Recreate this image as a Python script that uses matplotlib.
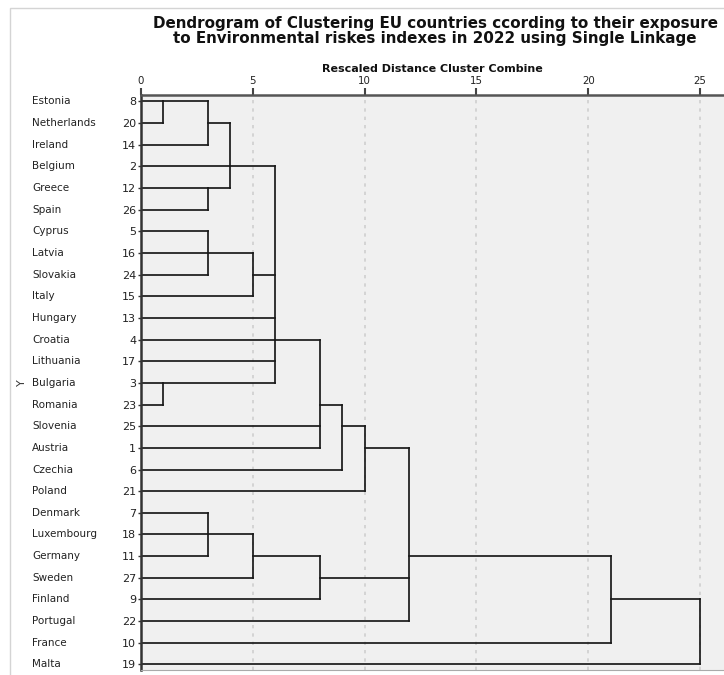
import matplotlib
matplotlib.use("Agg")
import matplotlib.pyplot as plt
from matplotlib.patches import Rectangle

plt.rcParams['font.family'] = ['DejaVu Sans']

# leaf order as listed, with SPSS case numbers
countries = ['Estonia', 'Netherlands', 'Ireland', 'Belgium', 'Greece', 'Spain',
             'Cyprus', 'Latvia', 'Slovakia', 'Italy', 'Hungary', 'Croatia',
             'Lithuania', 'Bulgaria', 'Romania', 'Slovenia', 'Austria', 'Czechia',
             'Poland', 'Denmark', 'Luxembourg', 'Germany', 'Sweden', 'Finland',
             'Portugal', 'France', 'Malta']
case_ids = [8, 20, 14, 2, 12, 26, 5, 16, 24, 15, 13, 4, 17, 3, 23, 25, 1, 6,
            21, 7, 18, 11, 27, 9, 22, 10, 19]

# merges: rescaled distance, members (leaf names or earlier merge index),
# leaf whose row carries the joined cluster onward
merge_height = [1, 3, 3, 4, 3, 5, 1, 6, 8, 9, 10, 3, 5, 8, 12, 21, 25]
merge_members = [
    ['Estonia', 'Netherlands'],
    [0, 'Ireland'],
    ['Greece', 'Spain'],
    [1, 'Belgium', 2],
    ['Cyprus', 'Latvia', 'Slovakia'],
    [4, 'Italy'],
    ['Bulgaria', 'Romania'],
    [3, 5, 'Hungary', 'Croatia', 'Lithuania', 6],
    [7, 'Slovenia', 'Austria'],
    [8, 'Czechia'],
    [9, 'Poland'],
    ['Denmark', 'Luxembourg', 'Germany'],
    [11, 'Sweden'],
    [12, 'Finland'],
    [10, 13, 'Portugal'],
    [14, 'France'],
    [15, 'Malta'],
]
merge_carrier = ['Estonia', 'Netherlands', 'Greece', 'Belgium', 'Latvia',
                 'Slovakia', 'Bulgaria', 'Croatia', 'Romania', 'Slovenia',
                 'Austria', 'Luxembourg', 'Germany', 'Sweden', 'Germany',
                 'Finland', None]

fig = plt.figure(figsize=(7.24, 6.75), dpi=100)
fig.patch.set_facecolor('white')
# screenshot frame
fig.patches.append(Rectangle((10 / 724, -0.01), 1.0, 1 - 8 / 675 + 0.01,
                             transform=fig.transFigure, fill=False,
                             edgecolor='#d4d4d4', linewidth=1.0))

ax = fig.add_axes([141 / 724, 1 - 670 / 675, 1 - 141 / 724, (670 - 95) / 675])
ax.set_facecolor('#f0f0f0')
ax.set_xlim(0, 26.07)
ax.set_ylim(26.26, -0.3)

row = {name: i for i, name in enumerate(countries)}
pos = []
line_kw = dict(color='#1a1a1a', linewidth=1.25, solid_capstyle='projecting')

for h, members, carrier in zip(merge_height, merge_members, merge_carrier):
    ys = []
    for m in members:
        if isinstance(m, str):
            y0, x0 = row[m], 0
        else:
            y0, x0 = pos[m], merge_height[m]
        ax.plot([x0, h], [y0, y0], **line_kw)
        ys.append(y0)
    ax.plot([h, h], [min(ys), max(ys)], **line_kw)
    pos.append(row[carrier] if carrier else (min(ys) + max(ys)) / 2)

# axis on top
ax.xaxis.tick_top()
ax.xaxis.set_label_position('top')
ax.set_xticks([0, 5, 10, 15, 20, 25])
ax.tick_params(axis='x', direction='out', length=5, width=1.5, color='#444444',
               labelsize=7.4, pad=1.5, labelcolor='#222222')
ax.set_xlabel('Rescaled Distance Cluster Combine', fontsize=8,
              fontweight='bold', labelpad=2.5, color='#111111')
ax.grid(axis='x', linestyle=(0, (2, 3)), color='#cfcfcf', linewidth=1.2)
ax.set_axisbelow(True)

ax.set_yticks(range(len(countries)))
ax.set_yticklabels([str(c) for c in case_ids], fontsize=8, color='#222222')
ax.tick_params(axis='y', length=2.5, width=1, color='#333333', pad=1)
for i, name in enumerate(countries):
    ax.text(-109 / 22.36, i, name, fontsize=7.5, color='#222222',
            ha='left', va='center')
ax.set_ylabel('Y', fontsize=8, color='#333333')
ax.yaxis.set_label_coords(-0.195, 0.5)

ax.spines['top'].set_color('#555555')
ax.spines['top'].set_linewidth(1.8)
ax.spines['left'].set_color('#333333')
ax.spines['left'].set_linewidth(1.8)
ax.spines['bottom'].set_color('#aaaaaa')
ax.spines['right'].set_visible(False)

fig.text(435 / 724, 1 - 16 / 675,
         'Dendrogram of Clustering EU countries ccording to their exposure\n'
         'to Environmental riskes indexes in 2022 using Single Linkage',
         ha='center', va='top', fontsize=10.9, fontweight='bold',
         linespacing=0.98, color='#111111')

fig.savefig('out.png', dpi=100)
